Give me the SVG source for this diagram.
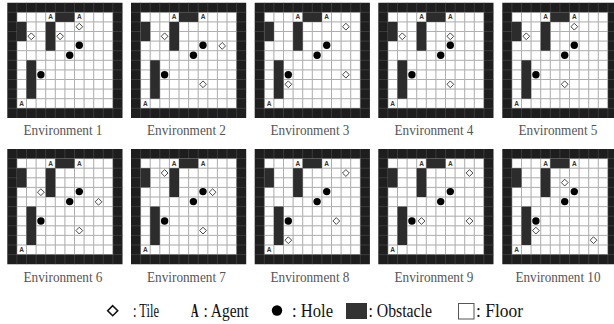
<svg xmlns="http://www.w3.org/2000/svg" xmlns:xlink="http://www.w3.org/1999/xlink" width="614" height="324" viewBox="0 0 614 324">
<style>
.lbl{font-family:"Liberation Serif","Times New Roman",serif;font-size:14px;fill:#555;text-anchor:middle}
.leg{font-family:"Liberation Serif","Times New Roman",serif;font-size:18px;fill:#111}
.ag{font-family:"Liberation Sans",Arial,sans-serif;font-size:6.5px;font-weight:bold;fill:#333;text-anchor:middle}
.tile{fill:#fff;stroke:#333;stroke-width:0.9}
</style>
<defs>
<g id="base">
<rect x="0" y="0" width="115.2" height="115.2" fill="#fff"/>
<path d="M9.6,0V115.2M19.2,0V115.2M28.8,0V115.2M38.4,0V115.2M48,0V115.2M57.6,0V115.2M67.2,0V115.2M76.8,0V115.2M86.4,0V115.2M96,0V115.2M105.6,0V115.2M0,9.6H115.2M0,19.2H115.2M0,28.8H115.2M0,38.4H115.2M0,48H115.2M0,57.6H115.2M0,67.2H115.2M0,76.8H115.2M0,86.4H115.2M0,96H115.2M0,105.6H115.2" stroke="#9a9a9a" stroke-width="0.9" fill="none"/>
<path d="M0,0H115.2V115.2H0ZM9.6,9.6V105.6H105.6V9.6Z" fill="#1e1e1e" fill-rule="evenodd"/>
<path d="M9.6,0V115.2M19.2,0V115.2M28.8,0V115.2M38.4,0V115.2M48,0V115.2M57.6,0V115.2M67.2,0V115.2M76.8,0V115.2M86.4,0V115.2M96,0V115.2M105.6,0V115.2M0,9.6H115.2M0,19.2H115.2M0,28.8H115.2M0,38.4H115.2M0,48H115.2M0,57.6H115.2M0,67.2H115.2M0,76.8H115.2M0,86.4H115.2M0,96H115.2M0,105.6H115.2" stroke="#fff" stroke-opacity="0.14" stroke-width="0.9" fill="none"/>
<g fill="#2c2c2c">
<rect x="48" y="9.6" width="19.2" height="9.6"/>
<rect x="9.6" y="19.2" width="9.6" height="19.2"/>
<rect x="38.4" y="19.2" width="9.6" height="28.8"/>
<rect x="19.2" y="57.6" width="9.6" height="38.4"/>
</g>
<g fill="#000">
<circle cx="72" cy="42.6" r="3.7"/>
<circle cx="62.4" cy="52.6" r="3.7"/>
<circle cx="33.6" cy="72" r="3.7"/>
</g>
<text class="ag" x="43.2" y="16.8">A</text>
<text class="ag" x="72" y="16.8">A</text>
<text class="ag" x="14.4" y="103.2">A</text>
</g>
<path id="tile" class="tile" d="M0,-3.4L3.4,0L0,3.4L-3.4,0Z"/>
</defs>

<g id="env1" transform="translate(7.3,2.7)">
<use xlink:href="#base"/>
<use xlink:href="#tile" x="72" y="24"/><use xlink:href="#tile" x="24" y="33.6"/><use xlink:href="#tile" x="52.8" y="33.6"/>
</g>
<g id="env2" transform="translate(131,2.7)">
<use xlink:href="#base"/>
<use xlink:href="#tile" x="33.6" y="33.6"/><use xlink:href="#tile" x="91.2" y="43.2"/><use xlink:href="#tile" x="72" y="81.6"/>
</g>
<g id="env3" transform="translate(254.7,2.7)">
<use xlink:href="#base"/>
<use xlink:href="#tile" x="91.2" y="24"/><use xlink:href="#tile" x="91.2" y="72"/><use xlink:href="#tile" x="33.6" y="81.6"/>
</g>
<g id="env4" transform="translate(378.3,2.7)">
<use xlink:href="#base"/>
<use xlink:href="#tile" x="24" y="33.6"/><use xlink:href="#tile" x="72" y="33.6"/><use xlink:href="#tile" x="72" y="81.6"/>
</g>
<g id="env5" transform="translate(502.3,2.7)">
<use xlink:href="#base"/>
<use xlink:href="#tile" x="72" y="24"/><use xlink:href="#tile" x="24" y="33.6"/><use xlink:href="#tile" x="62.4" y="81.6"/>
</g>
<g id="env6" transform="translate(7.3,149)">
<use xlink:href="#base"/>
<use xlink:href="#tile" x="33.6" y="43.2"/><use xlink:href="#tile" x="91.2" y="52.8"/><use xlink:href="#tile" x="72" y="81.6"/>
</g>
<g id="env7" transform="translate(131,149)">
<use xlink:href="#base"/>
<use xlink:href="#tile" x="33.6" y="24"/><use xlink:href="#tile" x="81.6" y="43.2"/><use xlink:href="#tile" x="72" y="81.6"/>
</g>
<g id="env8" transform="translate(254.7,149)">
<use xlink:href="#base"/>
<use xlink:href="#tile" x="91.2" y="24"/><use xlink:href="#tile" x="81.6" y="72"/><use xlink:href="#tile" x="33.6" y="91.2"/>
</g>
<g id="env9" transform="translate(378.3,149)">
<use xlink:href="#base"/>
<use xlink:href="#tile" x="91.2" y="24"/><use xlink:href="#tile" x="43.2" y="72"/><use xlink:href="#tile" x="91.2" y="72"/>
</g>
<g id="env10" transform="translate(502.3,149)">
<use xlink:href="#base"/>
<use xlink:href="#tile" x="62.4" y="33.6"/><use xlink:href="#tile" x="33.6" y="81.6"/><use xlink:href="#tile" x="91.2" y="91.2"/>
</g>

<g id="labels">
<text class="lbl" x="63" y="135" textLength="79" lengthAdjust="spacingAndGlyphs">Environment 1</text>
<text class="lbl" x="186.5" y="135" textLength="79" lengthAdjust="spacingAndGlyphs">Environment 2</text>
<text class="lbl" x="310" y="135" textLength="79" lengthAdjust="spacingAndGlyphs">Environment 3</text>
<text class="lbl" x="434" y="135" textLength="79" lengthAdjust="spacingAndGlyphs">Environment 4</text>
<text class="lbl" x="558" y="135" textLength="79" lengthAdjust="spacingAndGlyphs">Environment 5</text>
<text class="lbl" x="63" y="282" textLength="79" lengthAdjust="spacingAndGlyphs">Environment 6</text>
<text class="lbl" x="186.5" y="282" textLength="79" lengthAdjust="spacingAndGlyphs">Environment 7</text>
<text class="lbl" x="310" y="282" textLength="79" lengthAdjust="spacingAndGlyphs">Environment 8</text>
<text class="lbl" x="434" y="282" textLength="79" lengthAdjust="spacingAndGlyphs">Environment 9</text>
<text class="lbl" x="558" y="282" textLength="85" lengthAdjust="spacingAndGlyphs">Environment 10</text>
</g>

<g id="legend">
<path d="M112.7,305.7L117.7,310.7L112.7,315.7L107.7,310.7Z" fill="#fff" stroke="#111" stroke-width="1.6"/>
<text class="leg" x="133" y="317" textLength="26" lengthAdjust="spacingAndGlyphs">: Tile</text>
<text class="leg" x="191" y="317" font-weight="bold" textLength="7.5" lengthAdjust="spacingAndGlyphs">A</text>
<text class="leg" x="203.5" y="317" textLength="45" lengthAdjust="spacingAndGlyphs">: Agent</text>
<circle cx="277" cy="310.5" r="5.2" fill="#000"/>
<text class="leg" x="292" y="317" textLength="41" lengthAdjust="spacingAndGlyphs">: Hole</text>
<rect x="346" y="303" width="21" height="16" fill="#333"/>
<text class="leg" x="368.5" y="317" textLength="63.5" lengthAdjust="spacingAndGlyphs">: Obstacle</text>
<rect x="458.5" y="303.5" width="15.5" height="15.5" fill="#fff" stroke="#555" stroke-width="1"/>
<text class="leg" x="476" y="317" textLength="47" lengthAdjust="spacingAndGlyphs">: Floor</text>
</g>
</svg>
